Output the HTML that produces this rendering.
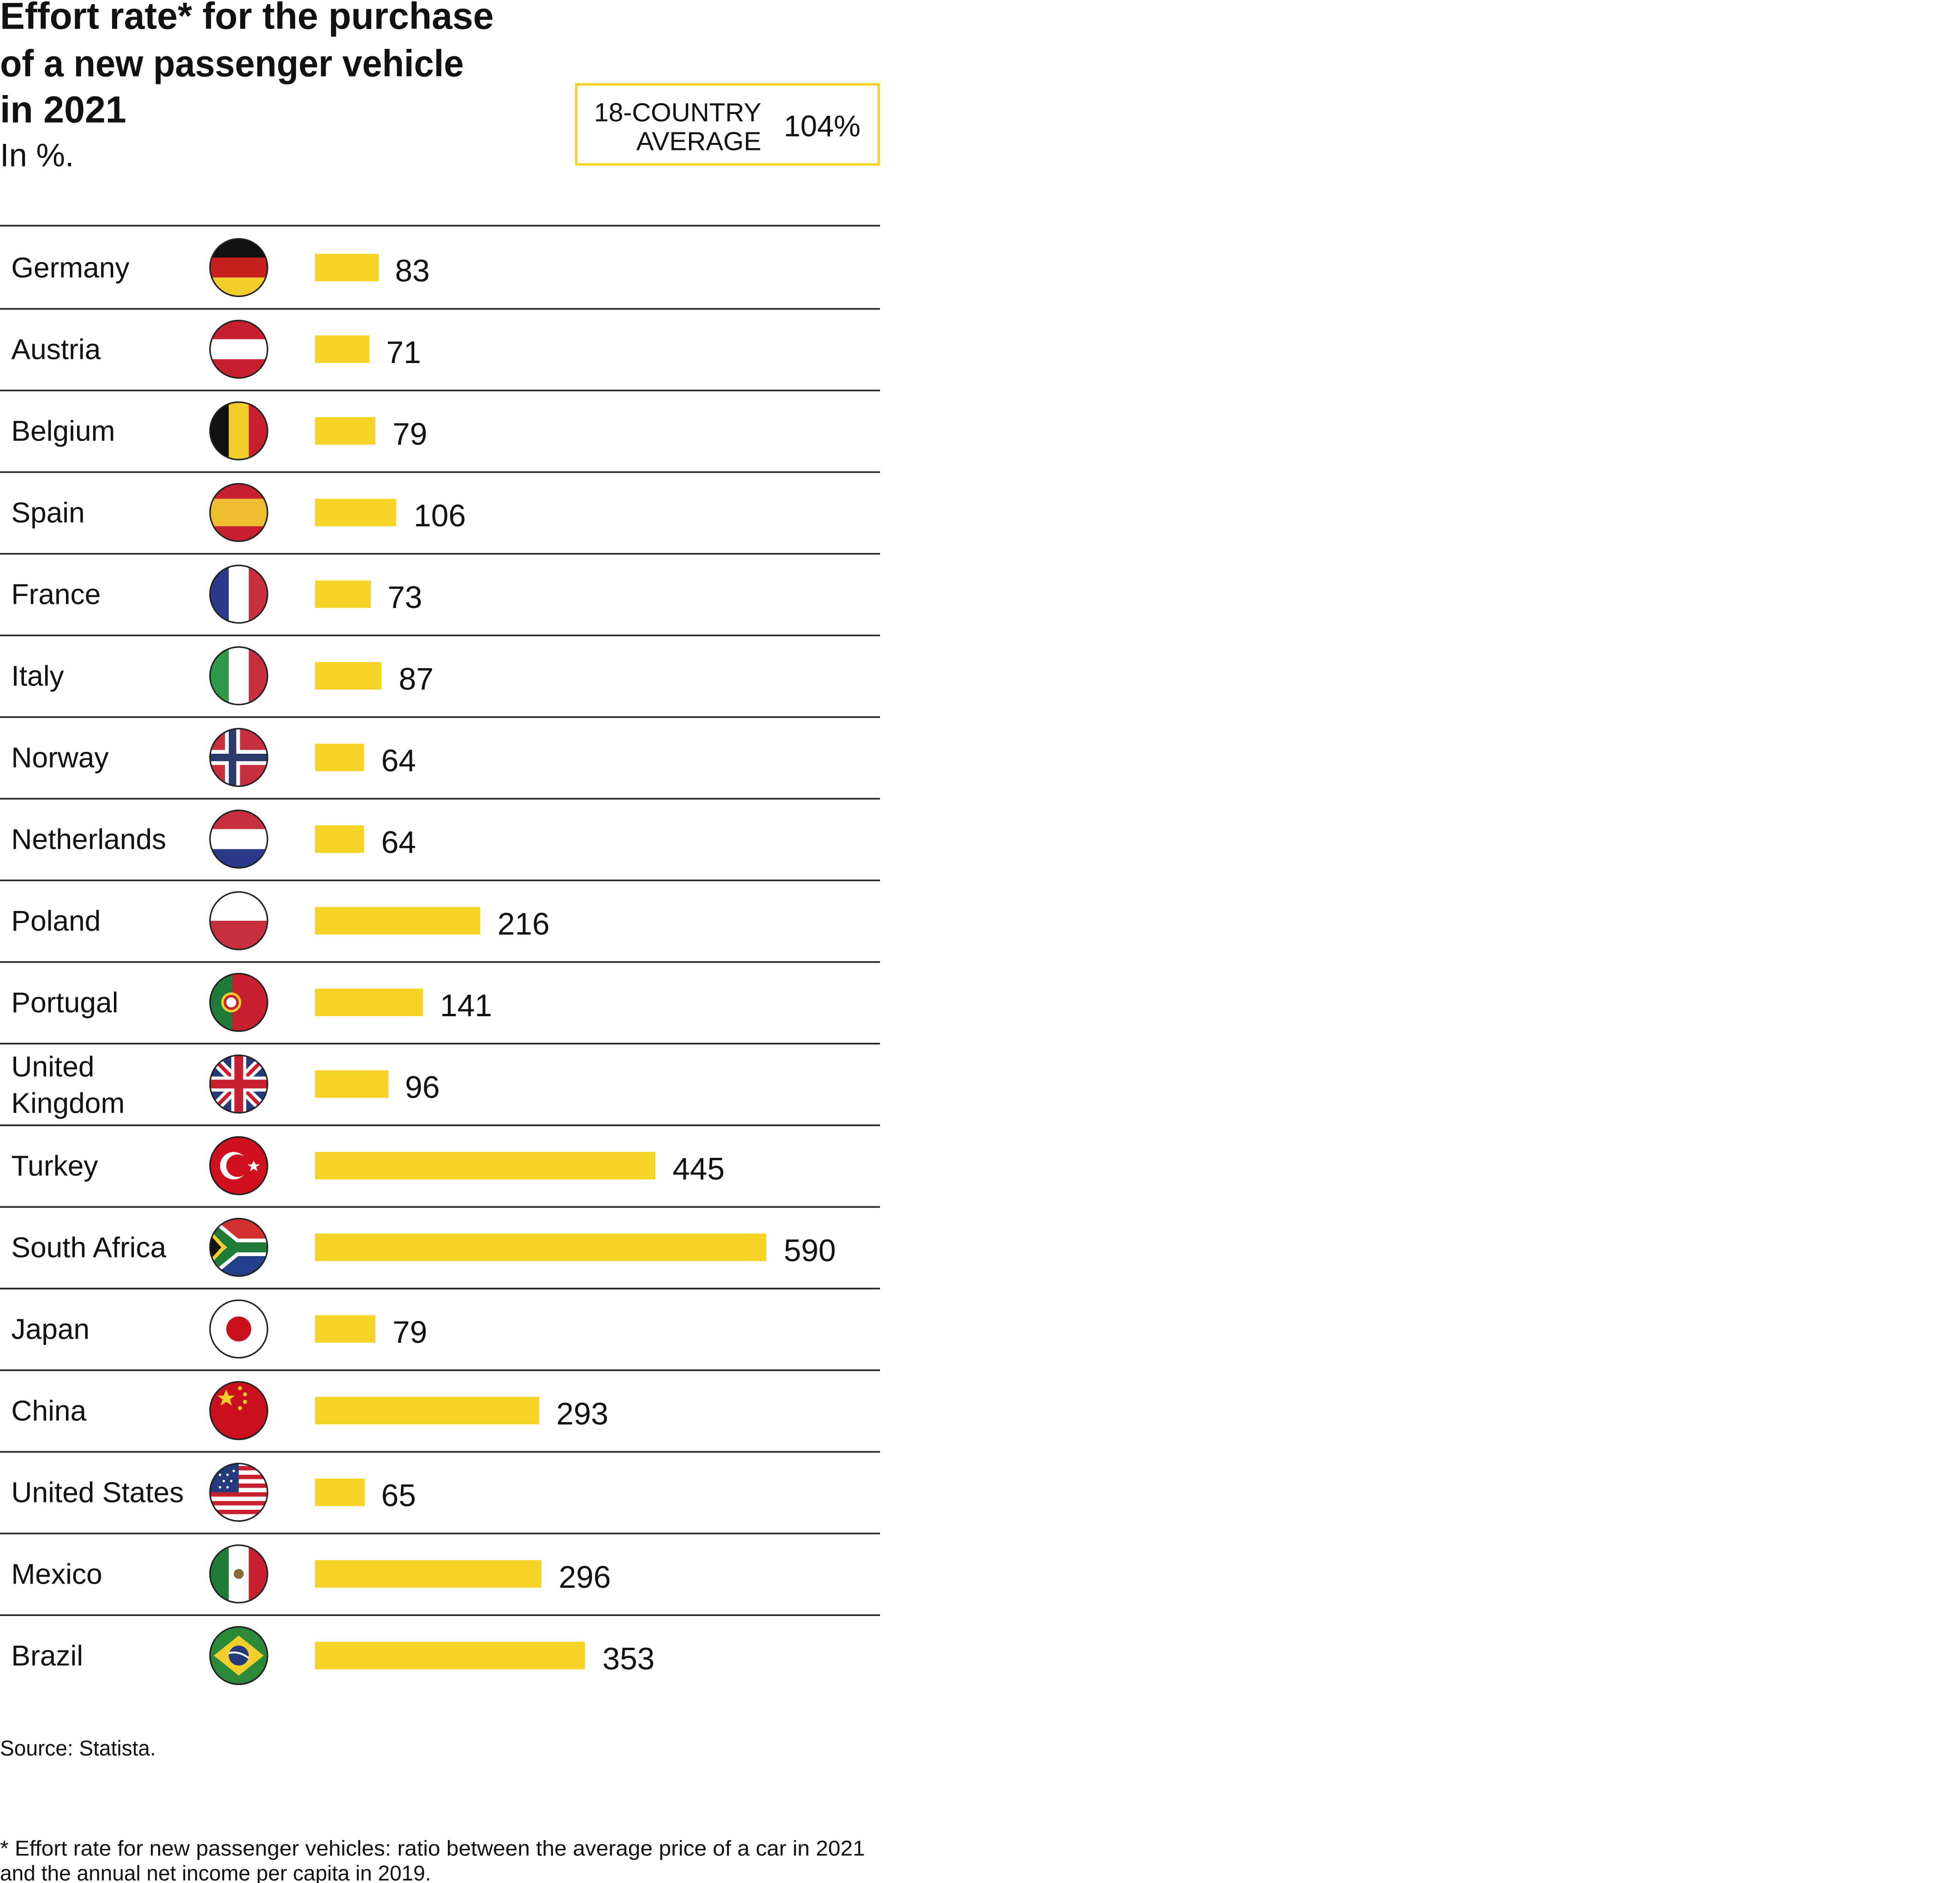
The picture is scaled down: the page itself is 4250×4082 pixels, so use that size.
<!DOCTYPE html>
<html><head><meta charset="utf-8"><style>
html,body{margin:0;padding:0;background:#fff;}
svg{display:block;}
text{font-family:"Liberation Sans",sans-serif;fill:#111;}
</style></head><body>
<svg width="4250" height="4082" viewBox="0 0 1568 1506" preserveAspectRatio="none" xmlns="http://www.w3.org/2000/svg">
<defs><clipPath id="c"><circle cx="191" cy="0" r="23"/></clipPath></defs>
<rect width="1568" height="1506" fill="#fff"/>
<g font-weight="bold" font-size="30">
<text x="0" y="23" textLength="395" lengthAdjust="spacingAndGlyphs">Effort rate* for the purchase</text>
<text x="0" y="61" textLength="371" lengthAdjust="spacingAndGlyphs">of a new passenger vehicle</text>
<text x="0" y="98" textLength="101" lengthAdjust="spacingAndGlyphs">in 2021</text>
</g>
<text x="0" y="133" font-size="26" fill="#333">In %.</text>
<rect x="461" y="67.5" width="242" height="64" fill="none" stroke="#f5d327" stroke-width="2"/>
<text x="609" y="97" font-size="21" text-anchor="end">18-COUNTRY</text>
<text x="609" y="120" font-size="21" text-anchor="end">AVERAGE</text>
<text x="627" y="109" font-size="24">104%</text>
<line x1="0" y1="180.5" x2="704" y2="180.5" stroke="#222" stroke-width="1.3"/>

<g transform="translate(0,214)"><text x="9" y="8" font-size="23">Germany</text>
<g clip-path="url(#c)"><rect x="168" y="-23" width="46" height="16" fill="#111"/><rect x="168" y="-8" width="46" height="16" fill="#c8201e"/><rect x="168" y="8" width="46" height="16" fill="#f3cf2d"/></g>
<circle cx="191" cy="0" r="23" fill="none" stroke="#222" stroke-width="1.2"/>
<rect x="252" y="-11" width="51" height="22" fill="#f5d327"/><text x="316" y="11" font-size="25">83</text>
<line x1="0" y1="33" x2="704" y2="33" stroke="#222" stroke-width="1.3"/></g>

<g transform="translate(0,279.3)"><text x="9" y="8" font-size="23">Austria</text>
<g clip-path="url(#c)"><rect x="168" y="-23" width="46" height="46" fill="#c8202e"/><rect x="168" y="-8" width="46" height="16" fill="#fff"/></g>
<circle cx="191" cy="0" r="23" fill="none" stroke="#222" stroke-width="1.2"/>
<rect x="252" y="-11" width="43.5" height="22" fill="#f5d327"/><text x="309" y="11" font-size="25">71</text>
<line x1="0" y1="33" x2="704" y2="33" stroke="#222" stroke-width="1.3"/></g>

<g transform="translate(0,344.6)"><text x="9" y="8" font-size="23">Belgium</text>
<g clip-path="url(#c)"><rect x="168" y="-23" width="16" height="46" fill="#111"/><rect x="183" y="-23" width="16" height="46" fill="#f3cf2d"/><rect x="199" y="-23" width="16" height="46" fill="#c8202e"/></g>
<circle cx="191" cy="0" r="23" fill="none" stroke="#222" stroke-width="1.2"/>
<rect x="252" y="-11" width="48.3" height="22" fill="#f5d327"/><text x="314" y="11" font-size="25">79</text>
<line x1="0" y1="33" x2="704" y2="33" stroke="#222" stroke-width="1.3"/></g>

<g transform="translate(0,409.9)"><text x="9" y="8" font-size="23">Spain</text>
<g clip-path="url(#c)"><rect x="168" y="-23" width="46" height="46" fill="#c8202e"/><rect x="168" y="-11" width="46" height="22" fill="#efbd30"/></g>
<circle cx="191" cy="0" r="23" fill="none" stroke="#222" stroke-width="1.2"/>
<rect x="252" y="-11" width="64.9" height="22" fill="#f5d327"/><text x="331" y="11" font-size="25">106</text>
<line x1="0" y1="33" x2="704" y2="33" stroke="#222" stroke-width="1.3"/></g>

<g transform="translate(0,475.2)"><text x="9" y="8" font-size="23">France</text>
<g clip-path="url(#c)"><rect x="168" y="-23" width="16" height="46" fill="#2b3a8a"/><rect x="183" y="-23" width="16" height="46" fill="#fff"/><rect x="199" y="-23" width="16" height="46" fill="#c8303e"/></g>
<circle cx="191" cy="0" r="23" fill="none" stroke="#222" stroke-width="1.2"/>
<rect x="252" y="-11" width="44.7" height="22" fill="#f5d327"/><text x="310" y="11" font-size="25">73</text>
<line x1="0" y1="33" x2="704" y2="33" stroke="#222" stroke-width="1.3"/></g>

<g transform="translate(0,540.5)"><text x="9" y="8" font-size="23">Italy</text>
<g clip-path="url(#c)"><rect x="168" y="-23" width="16" height="46" fill="#2e9a48"/><rect x="183" y="-23" width="16" height="46" fill="#fff"/><rect x="199" y="-23" width="16" height="46" fill="#c8303e"/></g>
<circle cx="191" cy="0" r="23" fill="none" stroke="#222" stroke-width="1.2"/>
<rect x="252" y="-11" width="53.2" height="22" fill="#f5d327"/><text x="319" y="11" font-size="25">87</text>
<line x1="0" y1="33" x2="704" y2="33" stroke="#222" stroke-width="1.3"/></g>

<g transform="translate(0,605.8)"><text x="9" y="8" font-size="23">Norway</text>
<g clip-path="url(#c)"><rect x="168" y="-23" width="46" height="46" fill="#c8303e"/><rect x="168" y="-6" width="46" height="12" fill="#fff"/><rect x="180" y="-23" width="12" height="46" fill="#fff"/><rect x="168" y="-3" width="46" height="6" fill="#2b3a6a"/><rect x="183" y="-23" width="6" height="46" fill="#2b3a6a"/></g>
<circle cx="191" cy="0" r="23" fill="none" stroke="#222" stroke-width="1.2"/>
<rect x="252" y="-11" width="39.2" height="22" fill="#f5d327"/><text x="305" y="11" font-size="25">64</text>
<line x1="0" y1="33" x2="704" y2="33" stroke="#222" stroke-width="1.3"/></g>

<g transform="translate(0,671.1)"><text x="9" y="8" font-size="23">Netherlands</text>
<g clip-path="url(#c)"><rect x="168" y="-23" width="46" height="16" fill="#c8303e"/><rect x="168" y="-8" width="46" height="16" fill="#fff"/><rect x="168" y="8" width="46" height="16" fill="#2b3a8a"/></g>
<circle cx="191" cy="0" r="23" fill="none" stroke="#222" stroke-width="1.2"/>
<rect x="252" y="-11" width="39.2" height="22" fill="#f5d327"/><text x="305" y="11" font-size="25">64</text>
<line x1="0" y1="33" x2="704" y2="33" stroke="#222" stroke-width="1.3"/></g>

<g transform="translate(0,736.4)"><text x="9" y="8" font-size="23">Poland</text>
<g clip-path="url(#c)"><rect x="168" y="-23" width="46" height="23" fill="#fff"/><rect x="168" y="0" width="46" height="23" fill="#c8303e"/></g>
<circle cx="191" cy="0" r="23" fill="none" stroke="#222" stroke-width="1.2"/>
<rect x="252" y="-11" width="132.2" height="22" fill="#f5d327"/><text x="398" y="11" font-size="25">216</text>
<line x1="0" y1="33" x2="704" y2="33" stroke="#222" stroke-width="1.3"/></g>

<g transform="translate(0,801.7)"><text x="9" y="8" font-size="23">Portugal</text>
<g clip-path="url(#c)"><rect x="168" y="-23" width="46" height="46" fill="#c8202e"/><rect x="168" y="-23" width="18" height="46" fill="#1f7a3a"/><circle cx="185" cy="0" r="8" fill="#f3cf2d"/><circle cx="185" cy="0" r="5" fill="#fff" stroke="#c8202e" stroke-width="2"/></g>
<circle cx="191" cy="0" r="23" fill="none" stroke="#222" stroke-width="1.2"/>
<rect x="252" y="-11" width="86.3" height="22" fill="#f5d327"/><text x="352" y="11" font-size="25">141</text>
<line x1="0" y1="33" x2="704" y2="33" stroke="#222" stroke-width="1.3"/></g>

<g transform="translate(0,867)"><text x="9" y="-6" font-size="23">United</text><text x="9" y="23" font-size="23">Kingdom</text>
<g clip-path="url(#c)"><rect x="168" y="-23" width="46" height="46" fill="#243a7a"/><path d="M168 -23 L214 23 M214 -23 L168 23" stroke="#fff" stroke-width="8"/><path d="M168 -23 L214 23 M214 -23 L168 23" stroke="#c8202e" stroke-width="3"/><rect x="168" y="-6" width="46" height="12" fill="#fff"/><rect x="185" y="-23" width="12" height="46" fill="#fff"/><rect x="168" y="-3.5" width="46" height="7" fill="#c8202e"/><rect x="187.5" y="-23" width="7" height="46" fill="#c8202e"/></g>
<circle cx="191" cy="0" r="23" fill="none" stroke="#222" stroke-width="1.2"/>
<rect x="252" y="-11" width="58.8" height="22" fill="#f5d327"/><text x="324" y="11" font-size="25">96</text>
<line x1="0" y1="33" x2="704" y2="33" stroke="#222" stroke-width="1.3"/></g>

<g transform="translate(0,932.3)"><text x="9" y="8" font-size="23">Turkey</text>
<g clip-path="url(#c)"><rect x="168" y="-23" width="46" height="46" fill="#d0101e"/><circle cx="187" cy="0" r="11" fill="#fff"/><circle cx="190" cy="0" r="9" fill="#d0101e"/><polygon points="203,-4 204.5,-1 208,-1 205,1 206,4.5 203,2.5 200,4.5 201,1 198,-1 201.5,-1" fill="#fff"/></g>
<circle cx="191" cy="0" r="23" fill="none" stroke="#222" stroke-width="1.2"/>
<rect x="252" y="-11" width="272.3" height="22" fill="#f5d327"/><text x="538" y="11" font-size="25">445</text>
<line x1="0" y1="33" x2="704" y2="33" stroke="#222" stroke-width="1.3"/></g>

<g transform="translate(0,997.6)"><text x="9" y="8" font-size="23">South Africa</text>
<g clip-path="url(#c)"><rect x="168" y="-23" width="46" height="23" fill="#d0302e"/><rect x="168" y="0" width="46" height="23" fill="#24408a"/><path d="M160 -23 L188 0 L160 23" fill="none" stroke="#fff" stroke-width="14"/><rect x="180" y="-7" width="40" height="14" fill="#fff"/><path d="M160 -23 L188 0 L160 23" fill="none" stroke="#1f7a3a" stroke-width="8"/><rect x="184" y="-4" width="36" height="8" fill="#1f7a3a"/><polygon points="168,-14 181,0 168,14" fill="#f3cf2d"/><polygon points="168,-10 177,0 168,10" fill="#111"/></g>
<circle cx="191" cy="0" r="23" fill="none" stroke="#222" stroke-width="1.2"/>
<rect x="252" y="-11" width="361" height="22" fill="#f5d327"/><text x="627" y="11" font-size="25">590</text>
<line x1="0" y1="33" x2="704" y2="33" stroke="#222" stroke-width="1.3"/></g>

<g transform="translate(0,1062.9)"><text x="9" y="8" font-size="23">Japan</text>
<circle cx="191" cy="0" r="23" fill="#fff"/><circle cx="191" cy="0" r="10" fill="#c8101e"/>
<circle cx="191" cy="0" r="23" fill="none" stroke="#222" stroke-width="1.2"/>
<rect x="252" y="-11" width="48.3" height="22" fill="#f5d327"/><text x="314" y="11" font-size="25">79</text>
<line x1="0" y1="33" x2="704" y2="33" stroke="#222" stroke-width="1.3"/></g>

<g transform="translate(0,1128.2)"><text x="9" y="8" font-size="23">China</text>
<g clip-path="url(#c)"><rect x="168" y="-23" width="46" height="46" fill="#c8101e"/><polygon points="181,-17 183,-12 188,-12 184,-9 185.5,-4 181,-7 176.5,-4 178,-9 174,-12 179,-12" fill="#f3cf2d"/><circle cx="192" cy="-18" r="1.6" fill="#f3cf2d"/><circle cx="196" cy="-13" r="1.6" fill="#f3cf2d"/><circle cx="196" cy="-7" r="1.6" fill="#f3cf2d"/><circle cx="192" cy="-2" r="1.6" fill="#f3cf2d"/></g>
<circle cx="191" cy="0" r="23" fill="none" stroke="#222" stroke-width="1.2"/>
<rect x="252" y="-11" width="179.3" height="22" fill="#f5d327"/><text x="445" y="11" font-size="25">293</text>
<line x1="0" y1="33" x2="704" y2="33" stroke="#222" stroke-width="1.3"/></g>

<g transform="translate(0,1193.5)"><text x="9" y="8" font-size="23">United States</text>
<g clip-path="url(#c)"><rect x="168" y="-23" width="46" height="46" fill="#fff"/><rect x="168" y="-21" width="46" height="3.5" fill="#c8202e"/><rect x="168" y="-14" width="46" height="3.5" fill="#c8202e"/><rect x="168" y="-7" width="46" height="3.5" fill="#c8202e"/><rect x="168" y="0" width="46" height="3.5" fill="#c8202e"/><rect x="168" y="7" width="46" height="3.5" fill="#c8202e"/><rect x="168" y="14" width="46" height="3.5" fill="#c8202e"/><rect x="168" y="-23" width="23" height="23" fill="#243a7a"/><circle cx="176" cy="-14" r="1" fill="#fff"/><circle cx="182" cy="-14" r="1" fill="#fff"/><circle cx="179" cy="-9" r="1" fill="#fff"/><circle cx="185" cy="-9" r="1" fill="#fff"/><circle cx="176" cy="-4" r="1" fill="#fff"/><circle cx="182" cy="-4" r="1" fill="#fff"/><circle cx="187" cy="-17" r="1" fill="#fff"/></g>
<circle cx="191" cy="0" r="23" fill="none" stroke="#222" stroke-width="1.2"/>
<rect x="252" y="-11" width="39.8" height="22" fill="#f5d327"/><text x="305" y="11" font-size="25">65</text>
<line x1="0" y1="33" x2="704" y2="33" stroke="#222" stroke-width="1.3"/></g>

<g transform="translate(0,1258.8)"><text x="9" y="8" font-size="23">Mexico</text>
<g clip-path="url(#c)"><rect x="168" y="-23" width="16" height="46" fill="#1f7a3a"/><rect x="183" y="-23" width="16" height="46" fill="#fff"/><rect x="199" y="-23" width="16" height="46" fill="#c8202e"/><circle cx="191" cy="0" r="4" fill="#8a6a3a"/></g>
<circle cx="191" cy="0" r="23" fill="none" stroke="#222" stroke-width="1.2"/>
<rect x="252" y="-11" width="181.2" height="22" fill="#f5d327"/><text x="447" y="11" font-size="25">296</text>
<line x1="0" y1="33" x2="704" y2="33" stroke="#222" stroke-width="1.3"/></g>

<g transform="translate(0,1324.1)"><text x="9" y="8" font-size="23">Brazil</text>
<g clip-path="url(#c)"><rect x="168" y="-23" width="46" height="46" fill="#2a8a3a"/><polygon points="191,-16 211,0 191,16 171,0" fill="#f3cf2d"/><circle cx="191" cy="0" r="8" fill="#243a7a"/><path d="M183 -2 Q191 -4 199 2" stroke="#fff" stroke-width="1.5" fill="none"/></g>
<circle cx="191" cy="0" r="23" fill="none" stroke="#222" stroke-width="1.2"/>
<rect x="252" y="-11" width="216" height="22" fill="#f5d327"/><text x="482" y="11" font-size="25">353</text></g>

<text x="0" y="1404" font-size="17" fill="#333">Source: Statista.</text>
<text x="0" y="1484" font-size="17" fill="#333" textLength="692" lengthAdjust="spacingAndGlyphs">* Effort rate for new passenger vehicles: ratio between the average price of a car in 2021</text>
<text x="0" y="1504" font-size="17" fill="#333">and the annual net income per capita in 2019.</text>
</svg>
</body></html>
